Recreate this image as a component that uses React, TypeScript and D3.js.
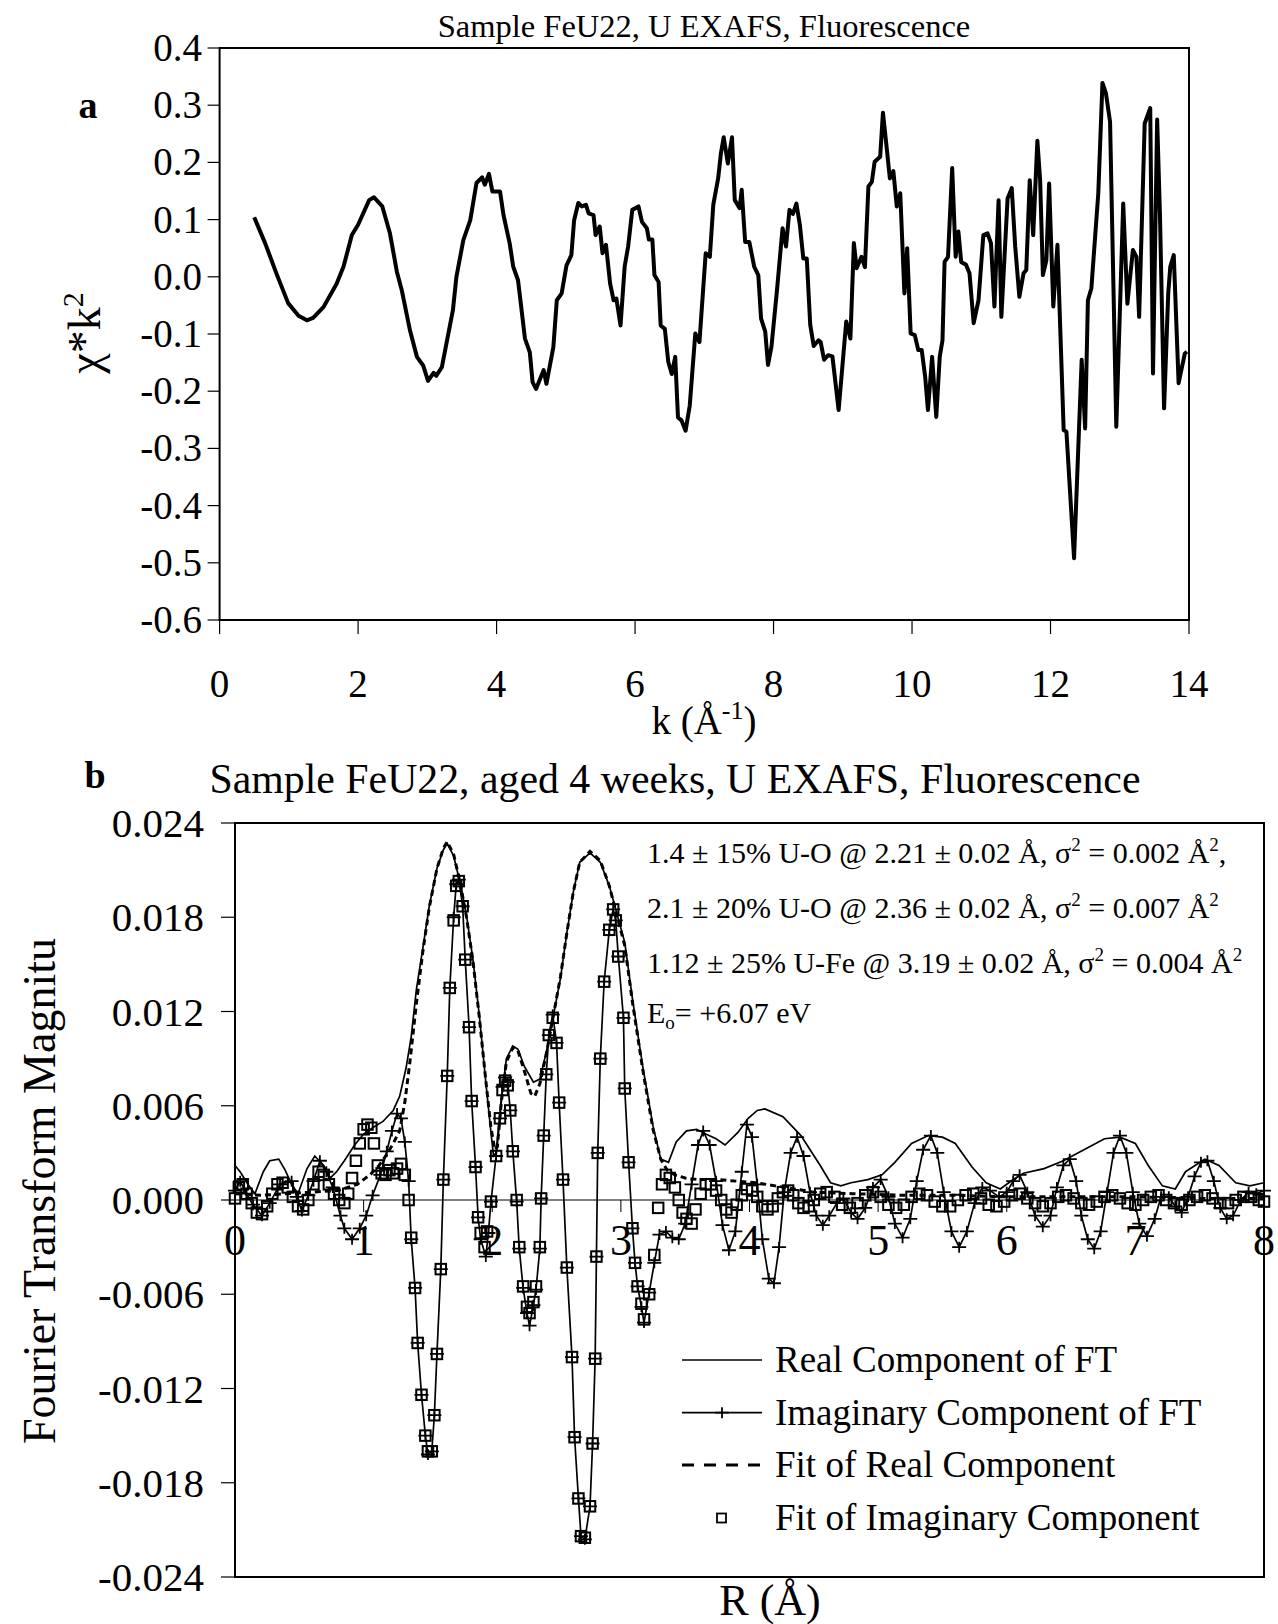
import React from "react";
import * as d3 from "d3";

const FONT = "'Liberation Serif', 'Times New Roman', Times, serif";

// ---------- Panel a : chi*k^2 vs k ----------
const chiK2Points: [number, number][] = [
  [0.50, 0.104], [0.66, 0.058], [0.82, 0.006], [0.99, -0.046], [1.14, -0.068], [1.26, -0.076],
  [1.35, -0.072], [1.50, -0.053], [1.69, -0.012], [1.79, 0.018], [1.91, 0.073], [2.00, 0.091],
  [2.16, 0.134], [2.23, 0.139], [2.35, 0.123], [2.46, 0.076], [2.56, 0.009], [2.63, -0.023],
  [2.75, -0.094], [2.85, -0.140], [2.94, -0.155], [3.01, -0.182], [3.09, -0.168], [3.13, -0.173],
  [3.21, -0.158], [3.37, -0.058], [3.42, 0.000], [3.52, 0.064], [3.62, 0.099], [3.71, 0.164],
  [3.79, 0.174], [3.83, 0.161], [3.89, 0.180], [3.94, 0.149], [4.05, 0.149], [4.10, 0.108],
  [4.19, 0.058], [4.24, 0.018], [4.31, -0.006], [4.41, -0.108], [4.48, -0.132], [4.52, -0.184],
  [4.57, -0.196], [4.68, -0.163], [4.72, -0.187], [4.82, -0.123], [4.87, -0.041], [4.94, -0.029],
  [5.01, 0.020], [5.08, 0.038], [5.12, 0.099], [5.18, 0.129], [5.23, 0.123], [5.29, 0.126],
  [5.33, 0.111], [5.40, 0.108], [5.43, 0.073], [5.49, 0.088], [5.53, 0.041], [5.58, 0.056],
  [5.64, -0.012], [5.69, -0.041], [5.73, -0.038], [5.79, -0.085], [5.85, 0.018], [5.90, 0.053],
  [5.96, 0.117], [6.05, 0.123], [6.10, 0.096], [6.17, 0.085], [6.20, 0.065], [6.25, 0.065],
  [6.28, 0.003], [6.34, -0.009], [6.37, -0.085], [6.43, -0.091], [6.48, -0.149], [6.53, -0.170],
  [6.58, -0.140], [6.62, -0.246], [6.67, -0.251], [6.73, -0.269], [6.79, -0.225], [6.87, -0.099],
  [6.93, -0.114], [7.02, 0.041], [7.08, 0.035], [7.13, 0.126], [7.20, 0.172], [7.24, 0.216],
  [7.28, 0.244], [7.34, 0.198], [7.40, 0.244], [7.44, 0.134], [7.51, 0.120], [7.54, 0.152],
  [7.59, 0.061], [7.65, 0.061], [7.72, 0.018], [7.78, 0.003], [7.82, -0.073], [7.88, -0.096],
  [7.92, -0.154], [7.97, -0.122], [8.05, -0.023], [8.13, 0.085], [8.18, 0.053], [8.23, 0.117],
  [8.28, 0.110], [8.33, 0.128], [8.38, 0.091], [8.43, 0.032], [8.48, 0.032], [8.53, -0.084],
  [8.58, -0.121], [8.65, -0.111], [8.68, -0.114], [8.73, -0.145], [8.79, -0.137], [8.85, -0.139],
  [8.94, -0.233], [9.05, -0.078], [9.11, -0.108], [9.16, 0.059], [9.20, 0.015], [9.27, 0.035],
  [9.32, 0.017], [9.37, 0.158], [9.42, 0.166], [9.46, 0.201], [9.54, 0.210], [9.58, 0.287],
  [9.63, 0.230], [9.68, 0.172], [9.73, 0.185], [9.78, 0.123], [9.83, 0.146], [9.89, -0.029],
  [9.93, 0.050], [9.98, -0.099], [10.04, -0.102], [10.09, -0.128], [10.14, -0.128], [10.19, -0.175],
  [10.23, -0.233], [10.29, -0.140], [10.35, -0.245], [10.40, -0.140], [10.44, -0.111], [10.47, 0.026],
  [10.52, 0.035], [10.58, 0.190], [10.63, 0.035], [10.67, 0.079], [10.71, 0.026], [10.78, 0.021],
  [10.83, 0.006], [10.89, -0.081], [10.96, -0.041], [11.03, 0.073], [11.09, 0.076], [11.14, 0.059],
  [11.19, -0.052], [11.25, 0.134], [11.29, -0.070], [11.38, 0.137], [11.44, 0.155], [11.49, 0.053],
  [11.55, -0.035], [11.61, 0.006], [11.65, 0.012], [11.70, 0.169], [11.75, 0.073], [11.81, 0.238],
  [11.85, 0.169], [11.89, 0.003], [11.94, 0.029], [11.98, 0.163], [12.04, -0.052], [12.10, 0.056],
  [12.19, -0.268], [12.23, -0.271], [12.34, -0.492], [12.45, -0.145], [12.50, -0.265], [12.54, -0.041],
  [12.59, -0.020], [12.69, 0.146], [12.75, 0.339], [12.80, 0.321], [12.86, 0.271], [12.95, -0.262],
  [13.05, 0.128], [13.11, -0.047], [13.19, 0.047], [13.24, 0.035], [13.28, -0.070], [13.36, 0.268],
  [13.44, 0.295], [13.48, -0.169], [13.54, 0.275], [13.58, 0.111], [13.64, -0.230], [13.70, -0.029],
  [13.73, 0.018], [13.78, 0.038], [13.85, -0.186], [13.94, -0.134], [13.97, -0.131],
];
const kTicks = [0, 2, 4, 6, 8, 10, 12, 14];
const chiTicks = [0.4, 0.3, 0.2, 0.1, 0.0, -0.1, -0.2, -0.3, -0.4, -0.5, -0.6];

// ---------- Panel b : Fourier transform ----------
const realComponent: [number, number][] = [
  [0.00, 0.0022], [0.04, 0.0018], [0.10, 0.0010], [0.155, 0.0004], [0.22, 0.0018], [0.27, 0.0025],
  [0.34, 0.0026], [0.39, 0.0019], [0.44, 0.0010], [0.49, 0.0004], [0.56, 0.0020], [0.62, 0.0028],
  [0.69, 0.0022], [0.74, 0.0014], [0.79, 0.0018], [0.85, 0.0025], [0.93, 0.0035], [1.00, 0.0042],
  [1.07, 0.0046], [1.15, 0.0050], [1.23, 0.0057], [1.28, 0.0066], [1.33, 0.0084], [1.37, 0.0104],
  [1.41, 0.0134], [1.46, 0.0160], [1.51, 0.0187], [1.57, 0.0211], [1.62, 0.0223], [1.65, 0.0227],
  [1.70, 0.0219], [1.75, 0.0202], [1.80, 0.0181], [1.85, 0.0153], [1.90, 0.0117], [1.95, 0.0075],
  [1.99, 0.0043], [2.01, 0.0028], [2.03, 0.0030], [2.07, 0.0064], [2.11, 0.0090], [2.16, 0.0098],
  [2.20, 0.0096], [2.25, 0.0085], [2.32, 0.0075], [2.37, 0.0077], [2.42, 0.0094], [2.47, 0.0115],
  [2.53, 0.0141], [2.58, 0.0170], [2.63, 0.0196], [2.68, 0.0215], [2.76, 0.0221], [2.84, 0.0215],
  [2.91, 0.0200], [2.96, 0.0185], [3.03, 0.0164], [3.09, 0.0128], [3.17, 0.0085], [3.25, 0.0047],
  [3.31, 0.0026], [3.37, 0.0024], [3.43, 0.0037], [3.51, 0.0044], [3.59, 0.0045], [3.66, 0.0042],
  [3.74, 0.0039], [3.81, 0.0035], [3.91, 0.0043], [3.99, 0.0052], [4.06, 0.0057], [4.12, 0.0058],
  [4.26, 0.0053], [4.40, 0.0041], [4.55, 0.0022], [4.63, 0.0011], [4.71, 0.0009], [4.79, 0.0011],
  [4.92, 0.0013], [5.03, 0.0016], [5.13, 0.0024], [5.26, 0.0036], [5.39, 0.0041], [5.50, 0.0040],
  [5.60, 0.0036], [5.73, 0.0021], [5.84, 0.0011], [5.95, 0.0007], [6.05, 0.0013], [6.13, 0.0017],
  [6.29, 0.0020], [6.44, 0.0025], [6.60, 0.0032], [6.76, 0.0039], [6.88, 0.0040], [7.00, 0.0036],
  [7.10, 0.0022], [7.21, 0.0009], [7.31, 0.0007], [7.39, 0.0018], [7.54, 0.0026], [7.65, 0.0022],
  [7.78, 0.0011], [7.89, 0.0009], [8.00, 0.0011],
];

const imaginaryComponent: [number, number][] = [
  [0.00, 0.0006], [0.04, 0.0012], [0.09, 0.0004], [0.14, -0.0003], [0.21, -0.0010], [0.27, -0.0002],
  [0.35, 0.0010], [0.44, 0.0012], [0.48, 0.0002], [0.52, -0.0007], [0.57, 0.0003], [0.61, 0.0012],
  [0.66, 0.0025], [0.71, 0.0018], [0.76, 0.0008], [0.82, -0.0010], [0.85, -0.0018], [0.91, -0.0025],
  [0.97, -0.0018], [1.02, -0.0010], [1.07, 0.0003], [1.13, 0.0016], [1.18, 0.0031], [1.22, 0.0044],
  [1.26, 0.0055], [1.29, 0.0052], [1.32, 0.0037], [1.35, 0.0012], [1.37, -0.0025], [1.40, -0.0056],
  [1.42, -0.0091], [1.45, -0.0124], [1.48, -0.0150], [1.50, -0.0162], [1.53, -0.0160], [1.55, -0.0137],
  [1.57, -0.0098], [1.60, -0.0044], [1.62, 0.0013], [1.65, 0.0079], [1.67, 0.0135], [1.70, 0.0180],
  [1.72, 0.0201], [1.74, 0.0204], [1.77, 0.0187], [1.79, 0.0153], [1.82, 0.0110], [1.84, 0.0063],
  [1.87, 0.0021], [1.89, -0.0011], [1.91, -0.0025], [1.95, -0.0036], [1.97, -0.0021], [1.99, -0.0001],
  [2.03, 0.0028], [2.06, 0.0052], [2.08, 0.0072], [2.10, 0.0078], [2.12, 0.0075], [2.14, 0.0057],
  [2.16, 0.0031], [2.19, -0.0001], [2.21, -0.0031], [2.24, -0.0056], [2.27, -0.0072], [2.29, -0.0080],
  [2.32, -0.0067], [2.34, -0.0057], [2.37, -0.0031], [2.38, 0.0001], [2.40, 0.0041], [2.42, 0.0080],
  [2.44, 0.0105], [2.47, 0.0118], [2.50, 0.0100], [2.52, 0.0062], [2.55, 0.0013], [2.58, -0.0043],
  [2.62, -0.0100], [2.64, -0.0151], [2.67, -0.0190], [2.69, -0.0214], [2.72, -0.0216], [2.76, -0.0195],
  [2.78, -0.0155], [2.80, -0.0101], [2.81, -0.0036], [2.82, 0.0030], [2.84, 0.0090], [2.87, 0.0139],
  [2.91, 0.0172], [2.94, 0.0185], [2.96, 0.0178], [2.98, 0.0155], [3.02, 0.0116], [3.03, 0.0071],
  [3.06, 0.0024], [3.09, -0.0018], [3.11, -0.0040], [3.13, -0.0055], [3.16, -0.0068], [3.18, -0.0078],
  [3.22, -0.0059], [3.26, -0.0040], [3.30, -0.0022], [3.35, -0.0020], [3.40, -0.0024], [3.45, -0.0025],
  [3.50, -0.0015], [3.55, 0.0010], [3.60, 0.0035], [3.64, 0.0044], [3.69, 0.0035], [3.74, 0.0012],
  [3.79, -0.0016], [3.84, -0.0032], [3.89, -0.0020], [3.94, 0.0018], [3.98, 0.0048], [4.02, 0.0040],
  [4.06, 0.0010], [4.10, -0.0025], [4.15, -0.0050], [4.19, -0.0053], [4.23, -0.0030], [4.27, 0.0005],
  [4.32, 0.0030], [4.37, 0.0040], [4.42, 0.0028], [4.47, 0.0005], [4.52, -0.0010], [4.57, -0.0016],
  [4.62, -0.0010], [4.68, -0.0002], [4.73, 0.0001], [4.79, -0.0008], [4.84, -0.0012], [4.90, -0.0005],
  [4.96, 0.0008], [5.02, 0.0013], [5.08, 0.0002], [5.13, -0.0015], [5.19, -0.0024], [5.25, -0.0012],
  [5.30, 0.0012], [5.35, 0.0032], [5.41, 0.0041], [5.46, 0.0030], [5.51, 0.0005], [5.57, -0.0020],
  [5.63, -0.0030], [5.69, -0.0020], [5.75, -0.0002], [5.81, 0.0008], [5.87, 0.0006], [5.94, 0.0002],
  [6.00, 0.0005], [6.05, 0.0012], [6.10, 0.0016], [6.16, 0.0005], [6.22, -0.0010], [6.28, -0.0017],
  [6.34, -0.0010], [6.39, 0.0008], [6.44, 0.0022], [6.49, 0.0026], [6.54, 0.0012], [6.58, -0.0010],
  [6.63, -0.0025], [6.68, -0.0031], [6.73, -0.0020], [6.78, 0.0005], [6.83, 0.0030], [6.88, 0.0041],
  [6.93, 0.0030], [6.98, 0.0005], [7.03, -0.0015], [7.09, -0.0023], [7.15, -0.0012], [7.20, 0.0002],
  [7.26, 0.0002], [7.31, -0.0004], [7.36, -0.0008], [7.41, 0.0002], [7.46, 0.0015], [7.51, 0.0024],
  [7.56, 0.0025], [7.61, 0.0012], [7.66, -0.0005], [7.71, -0.0012], [7.76, -0.0010], [7.82, 0.0000],
  [7.88, 0.0005], [7.94, 0.0004], [8.00, 0.0006],
];

const fitRealComponent: [number, number][] = [
  [0.00, 0.0004], [0.20, 0.0003], [0.40, 0.0004], [0.60, 0.0005], [0.80, 0.0006], [0.95, 0.0010],
  [1.05, 0.0016], [1.12, 0.0022], [1.18, 0.0029], [1.23, 0.0036], [1.28, 0.0044], [1.32, 0.0062],
  [1.36, 0.0088], [1.41, 0.0125], [1.46, 0.0158], [1.51, 0.0186], [1.57, 0.0211], [1.62, 0.0224],
  [1.65, 0.0228], [1.70, 0.0220], [1.75, 0.0202], [1.80, 0.0180], [1.85, 0.0152], [1.90, 0.0116],
  [1.95, 0.0076], [1.99, 0.0046], [2.02, 0.0032], [2.04, 0.0034], [2.07, 0.0062], [2.11, 0.0088],
  [2.16, 0.0097], [2.20, 0.0095], [2.25, 0.0082], [2.30, 0.0068], [2.33, 0.0066], [2.37, 0.0074],
  [2.42, 0.0093], [2.47, 0.0115], [2.53, 0.0142], [2.58, 0.0170], [2.63, 0.0196], [2.68, 0.0215],
  [2.76, 0.0222], [2.84, 0.0216], [2.91, 0.0200], [2.96, 0.0184], [3.03, 0.0162], [3.09, 0.0126],
  [3.17, 0.0083], [3.25, 0.0045], [3.31, 0.0026], [3.36, 0.0019], [3.42, 0.0016], [3.50, 0.0014],
  [3.60, 0.0013], [3.75, 0.0013], [3.90, 0.0012], [4.05, 0.0011], [4.20, 0.0009], [4.35, 0.0007],
  [4.50, 0.0005], [4.80, 0.0004], [5.20, 0.0003], [5.60, 0.0003], [6.00, 0.0002], [6.50, 0.0002],
  [7.00, 0.0002], [7.50, 0.0001], [8.00, 0.0001],
];

const fitImaginaryComponent: [number, number][] = [
  [0.00, 0.0001], [0.03, 0.0008], [0.06, 0.0010], [0.09, 0.0004], [0.13, -0.0002], [0.17, -0.0008],
  [0.21, -0.0009], [0.25, -0.0004], [0.29, 0.0004], [0.33, 0.0010], [0.37, 0.0011], [0.41, 0.0008],
  [0.45, 0.0002], [0.49, -0.0004], [0.53, -0.0006], [0.57, 0.0000], [0.61, 0.0010], [0.65, 0.0018],
  [0.69, 0.0016], [0.73, 0.0010], [0.77, 0.0004], [0.81, 0.0000], [0.85, -0.0002], [0.88, 0.0004],
  [0.91, 0.0014], [0.94, 0.0025], [0.97, 0.0036], [1.00, 0.0045], [1.03, 0.0048], [1.06, 0.0046],
  [1.08, 0.0036], [1.11, 0.0022], [1.14, 0.0017], [1.17, 0.0016], [1.20, 0.0019], [1.23, 0.0017],
  [1.26, 0.0020], [1.29, 0.0023], [1.32, 0.0016], [1.35, 0.0000], [1.37, -0.0024], [1.40, -0.0056],
  [1.42, -0.0091], [1.45, -0.0124], [1.48, -0.0150], [1.50, -0.0160], [1.53, -0.0160], [1.55, -0.0137],
  [1.57, -0.0098], [1.60, -0.0044], [1.62, 0.0013], [1.65, 0.0079], [1.67, 0.0135], [1.70, 0.0178],
  [1.72, 0.0200], [1.74, 0.0203], [1.77, 0.0187], [1.79, 0.0153], [1.82, 0.0110], [1.84, 0.0063],
  [1.87, 0.0021], [1.89, -0.0011], [1.91, -0.0021], [1.94, -0.0030], [1.96, -0.0020], [1.99, -0.0001],
  [2.03, 0.0028], [2.06, 0.0052], [2.08, 0.0070], [2.10, 0.0076], [2.12, 0.0073], [2.14, 0.0057],
  [2.16, 0.0031], [2.19, 0.0000], [2.21, -0.0030], [2.24, -0.0055], [2.27, -0.0068], [2.29, -0.0072],
  [2.32, -0.0065], [2.34, -0.0055], [2.37, -0.0030], [2.38, 0.0001], [2.40, 0.0041], [2.42, 0.0080],
  [2.44, 0.0105], [2.47, 0.0116], [2.50, 0.0100], [2.52, 0.0062], [2.55, 0.0013], [2.58, -0.0043],
  [2.62, -0.0100], [2.64, -0.0151], [2.67, -0.0190], [2.69, -0.0214], [2.72, -0.0215], [2.76, -0.0195],
  [2.78, -0.0155], [2.80, -0.0101], [2.81, -0.0036], [2.82, 0.0030], [2.84, 0.0090], [2.87, 0.0139],
  [2.91, 0.0172], [2.94, 0.0185], [2.96, 0.0178], [2.98, 0.0155], [3.02, 0.0116], [3.03, 0.0071],
  [3.06, 0.0024], [3.09, -0.0018], [3.11, -0.0040], [3.13, -0.0055], [3.16, -0.0066], [3.18, -0.0076],
  [3.22, -0.0060], [3.26, -0.0035], [3.29, -0.0005], [3.32, 0.0010], [3.35, 0.0016], [3.38, 0.0014],
  [3.42, 0.0008], [3.45, 0.0000], [3.48, -0.0008], [3.51, -0.0012], [3.55, -0.0015], [3.58, -0.0006],
  [3.62, 0.0004], [3.66, 0.0010], [3.70, 0.0010], [3.74, 0.0006], [3.78, 0.0000], [3.82, -0.0006],
  [3.86, -0.0008], [3.90, -0.0003], [3.94, 0.0003], [3.98, 0.0007], [4.02, 0.0006], [4.06, 0.0002],
  [4.10, -0.0004], [4.14, -0.0006], [4.18, -0.0004], [4.22, 0.0001], [4.26, 0.0005], [4.30, 0.0006],
  [4.34, 0.0003], [4.38, -0.0002], [4.42, -0.0005], [4.46, -0.0004], [4.50, 0.0000], [4.55, 0.0004],
  [4.60, 0.0005], [4.66, 0.0002], [4.72, -0.0003], [4.78, -0.0005], [4.84, -0.0002], [4.90, 0.0003],
  [4.96, 0.0005], [5.02, 0.0002], [5.08, -0.0003], [5.14, -0.0005], [5.20, -0.0003], [5.26, 0.0002],
  [5.32, 0.0004], [5.38, 0.0003], [5.44, -0.0001], [5.50, -0.0004], [5.56, -0.0004], [5.62, 0.0000],
  [5.68, 0.0003], [5.74, 0.0004], [5.80, 0.0001], [5.86, -0.0003], [5.92, -0.0004], [5.98, -0.0001],
  [6.04, 0.0003], [6.10, 0.0004], [6.16, 0.0001], [6.22, -0.0002], [6.28, -0.0004], [6.34, -0.0002],
  [6.40, 0.0002], [6.46, 0.0003], [6.52, 0.0001], [6.58, -0.0002], [6.64, -0.0003], [6.70, -0.0001],
  [6.76, 0.0002], [6.82, 0.0003], [6.88, 0.0001], [6.94, -0.0002], [7.00, -0.0003], [7.06, 0.0000],
  [7.12, 0.0002], [7.18, 0.0003], [7.24, 0.0000], [7.30, -0.0002], [7.36, -0.0003], [7.42, 0.0000],
  [7.48, 0.0002], [7.54, 0.0003], [7.60, 0.0001], [7.66, -0.0002], [7.72, -0.0002], [7.78, 0.0000],
  [7.84, 0.0002], [7.90, 0.0002], [7.96, 0.0000], [8.00, -0.0001],
];

const rTicks = [0, 1, 2, 3, 4, 5, 6, 7, 8];
const ftTicks = [0.024, 0.018, 0.012, 0.006, 0.0, -0.006, -0.012, -0.018, -0.024];
const legendLabels = [
  "Real Component of FT",
  "Imaginary Component of FT",
  "Fit of Real Component",
  "Fit of Imaginary Component",
];

export default function App() {
  // panel a scales
  const xa = d3.scaleLinear().domain([0, 14]).range([219.6, 1189]);
  const ya = d3.scaleLinear().domain([-0.6, 0.4]).range([620, 48]);
  const lineA = d3
    .line<[number, number]>()
    .x((d) => xa(d[0]))
    .y((d) => ya(d[1]));

  // panel b scales
  const xb = d3.scaleLinear().domain([0, 8]).range([235, 1264]);
  const yb = d3.scaleLinear().domain([-0.024, 0.024]).range([1577, 823]);
  const lineB = d3
    .line<[number, number]>()
    .x((d) => xb(d[0]))
    .y((d) => yb(d[1]));

  const fmtA = d3.format(".1f");
  const fmtB = d3.format(".3f");
  const minus = (s: string) => s.replace("\u2212", "-");

  const plus = (cx: number, cy: number) =>
    `M${cx - 7},${cy}H${cx + 7}M${cx},${cy - 5.5}V${cy + 5.5}`;

  const SQ = 10.5;
  const legendY = [1360, 1412.7, 1465, 1518];
  const legendX0 = 682;
  const legendX1 = 762;

  return (
    <svg
      width={1278}
      height={1624}
      viewBox="0 0 1278 1624"
      style={{ position: "absolute", left: 0, top: 0, background: "#fff" }}
      fontFamily={FONT}
    >
      <rect x={0} y={0} width={1278} height={1624} fill="#fff" />

      {/* ================= Panel a ================= */}
      <text x={704} y={37} fontSize={32.5} textAnchor="middle">
        Sample FeU22, U EXAFS, Fluorescence
      </text>
      <text x={88} y={118} fontSize={38} fontWeight="bold" textAnchor="middle">
        a
      </text>
      <rect
        x={xa(0)}
        y={ya(0.4)}
        width={xa(14) - xa(0)}
        height={ya(-0.6) - ya(0.4)}
        fill="none"
        stroke="#000"
        strokeWidth={2}
      />
      {chiTicks.map((t) => (
        <g key={"ya" + t}>
          <line x1={xa(0) - 12} x2={xa(0)} y1={ya(t)} y2={ya(t)} stroke="#000" strokeWidth={1.2} />
          <text x={202} y={ya(t) + 13} fontSize={39} textAnchor="end">
            {minus(fmtA(t))}
          </text>
        </g>
      ))}
      {kTicks.map((t) => (
        <g key={"xa" + t}>
          <line x1={xa(t)} x2={xa(t)} y1={ya(-0.6)} y2={ya(-0.6) + 14} stroke="#000" strokeWidth={1.2} />
          <text x={xa(t)} y={697} fontSize={39} textAnchor="middle">
            {t}
          </text>
        </g>
      ))}
      <text x={704} y={734} fontSize={39} textAnchor="middle">
        k (Å<tspan dy={-15} fontSize={26}>-1</tspan>
        <tspan dy={15}>)</tspan>
      </text>
      <text
        transform={`translate(100,333) rotate(-90)`}
        fontSize={46}
        textAnchor="middle"
      >
        χ*k<tspan dy={-17} fontSize={30}>2</tspan>
      </text>
      <path
        d={lineA(chiK2Points) || ""}
        fill="none"
        stroke="#000"
        strokeWidth={4}
        strokeLinejoin="round"
      />

      {/* ================= Panel b ================= */}
      <text x={95} y={788} fontSize={38} fontWeight="bold" textAnchor="middle">
        b
      </text>
      <text x={675} y={793} fontSize={41.8} textAnchor="middle">
        Sample FeU22, aged 4 weeks, U EXAFS, Fluorescence
      </text>
      <rect
        x={xb(0)}
        y={yb(0.024)}
        width={xb(8) - xb(0)}
        height={yb(-0.024) - yb(0.024)}
        fill="none"
        stroke="#000"
        strokeWidth={2}
      />
      {ftTicks.map((t) => (
        <g key={"yb" + t}>
          <line x1={xb(0) - 14} x2={xb(0)} y1={yb(t)} y2={yb(t)} stroke="#000" strokeWidth={1.2} />
          <text x={204} y={yb(t) + 14} fontSize={41} textAnchor="end">
            {minus(fmtB(t))}
          </text>
        </g>
      ))}
      <line x1={xb(0)} x2={xb(8)} y1={yb(0)} y2={yb(0)} stroke="#000" strokeWidth={1} />
      {rTicks.map((t) => (
        <g key={"xb" + t}>
          <line x1={xb(t)} x2={xb(t)} y1={yb(0)} y2={yb(0) + 12} stroke="#000" strokeWidth={1} />
          <text x={xb(t)} y={1255} fontSize={44} textAnchor="middle">
            {t}
          </text>
        </g>
      ))}
      <text x={770} y={1615} fontSize={44} textAnchor="middle">
        R (Å)
      </text>
      <text
        transform={`translate(55,1191) rotate(-90)`}
        fontSize={46}
        textAnchor="middle"
      >
        Fourier Transform Magnitu
      </text>

      {/* fit annotation */}
      <g fontSize={30} style={{ whiteSpace: "pre" }}>
        <text x={647} y={863}>
          1.4 ± 15% U-O @ 2.21 ± 0.02 Å, σ<tspan dy={-12} fontSize={19}>2</tspan>
          <tspan dy={12}> = 0.002 Å</tspan>
          <tspan dy={-12} fontSize={19}>2</tspan>
          <tspan dy={12}>,</tspan>
        </text>
        <text x={647} y={918}>
          2.1 ± 20% U-O @ 2.36 ±  0.02 Å, σ<tspan dy={-12} fontSize={19}>2</tspan>
          <tspan dy={12}> = 0.007 Å</tspan>
          <tspan dy={-12} fontSize={19}>2</tspan>
        </text>
        <text x={647} y={973}>
          1.12 ± 25% U-Fe @ 3.19 ± 0.02 Å, σ<tspan dy={-12} fontSize={19}>2</tspan>
          <tspan dy={12}> = 0.004 Å</tspan>
          <tspan dy={-12} fontSize={19}>2</tspan>
        </text>
        <text x={647} y={1023}>
          E<tspan dy={6} fontSize={19}>o</tspan>
          <tspan dy={-6}>= +6.07 eV</tspan>
        </text>
      </g>

      {/* series */}
      <path d={lineB(realComponent) || ""} fill="none" stroke="#000" strokeWidth={1.7} />
      <path
        d={lineB(fitRealComponent) || ""}
        fill="none"
        stroke="#000"
        strokeWidth={3}
        strokeDasharray="6 4"
      />
      <path d={lineB(imaginaryComponent) || ""} fill="none" stroke="#000" strokeWidth={1.7} />
      {imaginaryComponent.map((d, i) => (
        <path key={"p" + i} d={plus(xb(d[0]), yb(d[1]))} stroke="#000" strokeWidth={1.8} fill="none" />
      ))}
      {fitImaginaryComponent.map((d, i) => (
        <rect
          key={"s" + i}
          x={xb(d[0]) - SQ / 2}
          y={yb(d[1]) - SQ / 2}
          width={SQ}
          height={SQ}
          fill="none"
          stroke="#000"
          strokeWidth={2}
        />
      ))}

      {/* legend */}
      <line x1={legendX0} x2={legendX1} y1={legendY[0]} y2={legendY[0]} stroke="#000" strokeWidth={1.7} />
      <line x1={legendX0} x2={legendX1} y1={legendY[1]} y2={legendY[1]} stroke="#000" strokeWidth={1.7} />
      <path d={plus((legendX0 + legendX1) / 2, legendY[1])} stroke="#000" strokeWidth={1.8} />
      <line
        x1={legendX0}
        x2={legendX1}
        y1={legendY[2]}
        y2={legendY[2]}
        stroke="#000"
        strokeWidth={3}
        strokeDasharray="12 10"
      />
      <rect
        x={(legendX0 + legendX1) / 2 - 5}
        y={legendY[3] - 4.5}
        width={9}
        height={9}
        fill="none"
        stroke="#000"
        strokeWidth={1.8}
      />
      {legendLabels.map((l, i) => (
        <text key={l} x={775} y={legendY[i] + 12} fontSize={37}>
          {l}
        </text>
      ))}
    </svg>
  );
}
